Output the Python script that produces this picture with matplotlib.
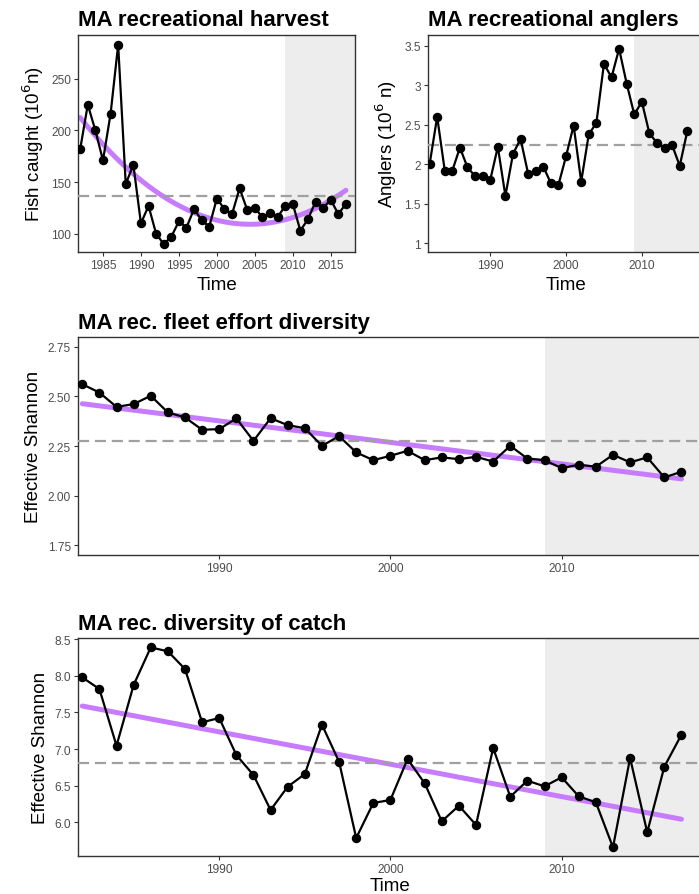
import numpy as np
import matplotlib
matplotlib.use('Agg')
import matplotlib.pyplot as plt

plt.rcParams['font.family'] = ['Liberation Sans', 'DejaVu Sans']

# ---- data ----
years = np.arange(1982, 2018)
years_ang = np.arange(1982, 2017)

harvest = [182, 225, 200, 171, 216, 283, 148, 167, 110, 127, 100, 90, 97, 112,
           106, 124, 113, 107, 134, 124, 119, 144, 123, 125, 116, 120, 116, 127,
           129, 103, 114, 131, 125, 133, 119, 129]

anglers = [2.00, 2.60, 1.92, 1.92, 2.21, 1.96, 1.85, 1.85, 1.80, 2.22, 1.60,
           2.13, 2.32, 1.88, 1.92, 1.97, 1.76, 1.74, 2.10, 2.49, 1.78, 2.38,
           2.52, 3.27, 3.10, 3.46, 3.02, 2.63, 2.79, 2.39, 2.27, 2.21, 2.24,
           1.98, 2.42]

effort_div = [2.561, 2.519, 2.447, 2.461, 2.503, 2.419, 2.394, 2.332, 2.335,
              2.389, 2.276, 2.390, 2.355, 2.340, 2.251, 2.300, 2.218, 2.179,
              2.201, 2.226, 2.179, 2.193, 2.184, 2.196, 2.172, 2.251, 2.187,
              2.179, 2.139, 2.156, 2.146, 2.206, 2.168, 2.193, 2.092, 2.121]

catch_div = [7.977, 7.818, 7.045, 7.873, 8.386, 8.332, 8.091, 7.364, 7.423,
             6.918, 6.645, 6.168, 6.486, 6.659, 7.332, 6.827, 5.786, 6.264,
             6.305, 6.864, 6.532, 6.014, 6.227, 5.964, 7.014, 6.350, 6.568,
             6.491, 6.614, 6.355, 6.273, 5.659, 6.877, 5.864, 6.759, 7.195]

SHADE_START = 2009
XLIM = (1981.75, 2018.2)

PURPLE = '#C77CFF'
SHADE = '#EDEDED'
TICK_COL = '#4D4D4D'
W, H = 699, 895


def px_axes(fig, left, right, top, bottom):
    return fig.add_axes([left / W, 1 - bottom / H, (right - left) / W, (bottom - top) / H])


def panel(ax, x, y, title, ylabel, ylim, yticks, yticklabels, xticks,
          trend_deg=None, xlabel=True, xlabelpad=4):
    ax.axvspan(SHADE_START, 2030, color=SHADE, lw=0, zorder=0)
    if trend_deg:
        coef = np.polyfit(x, y, trend_deg)
        xs = np.linspace(x[0], x[-1], 200)
        ax.plot(xs, np.polyval(coef, xs), color=PURPLE, lw=3.6,
                solid_capstyle='round', zorder=2)
    ax.axhline(np.mean(y), color='#A0A0A0', lw=1.6, ls=(0, (5, 2.6)), zorder=3)
    ax.plot(x, y, color='black', lw=1.6, marker='o', ms=5.8, zorder=4)
    ax.set_xlim(XLIM)
    ax.set_ylim(ylim)
    ax.set_xticks(xticks)
    ax.set_yticks(yticks)
    ax.set_yticklabels(yticklabels)
    ax.tick_params(colors='#333333', labelcolor=TICK_COL, labelsize=8.6,
                   length=3, width=0.8, pad=2)
    for s in ax.spines.values():
        s.set_color('#333333')
        s.set_linewidth(1.0)
    ax.set_title(title, loc='left', fontsize=16, fontweight='bold', pad=7)
    ax.set_ylabel(ylabel, fontsize=13.5, labelpad=4)
    if xlabel:
        ax.set_xlabel('Time', fontsize=13.5, labelpad=xlabelpad)


fig = plt.figure(figsize=(W / 100, H / 100), dpi=100)

ax1 = px_axes(fig, 78.3, 355, 36, 253)
panel(ax1, years, harvest, 'MA recreational harvest', 'Fish caught (10$^6$n)',
      (82.3, 292.5), [100, 150, 200, 250], ['100', '150', '200', '250'],
      [1985, 1990, 1995, 2000, 2005, 2010, 2015], trend_deg=2)

ax2 = px_axes(fig, 427.7, 704, 36, 253)
panel(ax2, years_ang, anglers, 'MA recreational anglers', 'Anglers (10$^6$ n)',
      (0.89, 3.635), [1, 1.5, 2, 2.5, 3, 3.5], ['1', '1.5', '2', '2.5', '3', '3.5'],
      [1990, 2000, 2010])

ax3 = px_axes(fig, 78, 702, 338.3, 556)
panel(ax3, years, effort_div, 'MA rec. fleet effort diversity', 'Effective Shannon',
      (1.702, 2.797), [1.75, 2.0, 2.25, 2.5, 2.75],
      ['1.75', '2.00', '2.25', '2.50', '2.75'], [1990, 2000, 2010],
      trend_deg=1, xlabel=False)

ax4 = px_axes(fig, 78, 702, 639.3, 856.7)
panel(ax4, years, catch_div, 'MA rec. diversity of catch', 'Effective Shannon',
      (5.545, 8.51), [6.0, 6.5, 7.0, 7.5, 8.0, 8.5],
      ['6.0', '6.5', '7.0', '7.5', '8.0', '8.5'], [1990, 2000, 2010],
      trend_deg=1, xlabelpad=1.5)

fig.savefig('out.png', dpi=100)
